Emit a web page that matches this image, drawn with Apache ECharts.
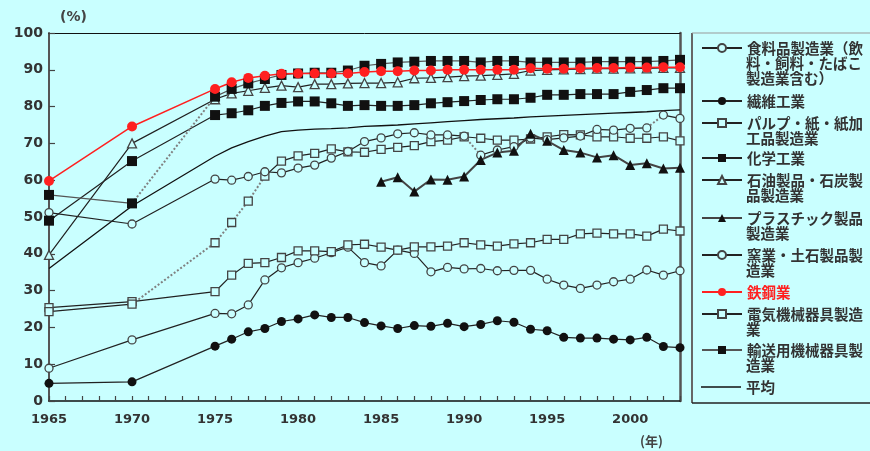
<!DOCTYPE html>
<html><head><meta charset="utf-8">
<script src="https://cdn.jsdelivr.net/npm/echarts@6/dist/echarts.min.js"></script>
<style>html,body{margin:0;padding:0;background:#c9ffff}#c{width:870px;height:451px}</style>
</head><body><div id="c"></div>
<script>
// ---- data ----
const years = [1965,1970,1975,1976,1977,1978,1979,1980,1981,1982,1983,1984,1985,1986,1987,1988,1989,1990,1991,1992,1993,1994,1995,1996,1997,1998,1999,2000,2001,2002,2003];
const plasticYears = [1985,1986,1987,1988,1989,1990,1991,1992,1993,1994,1995,1996,1997,1998,1999,2000,2001,2002,2003];

const food      = [8.9,16.6,23.8,23.7,26.1,32.9,36.2,37.6,38.8,40.3,41.8,37.6,36.7,41,40.1,35.1,36.3,35.9,36,35.4,35.5,35.5,33.1,31.5,30.6,31.5,32.4,33.1,35.6,34.2,35.4];
const textile   = [4.8,5.2,14.9,16.8,18.8,19.7,21.6,22.3,23.4,22.7,22.7,21.3,20.4,19.7,20.5,20.3,21.1,20.2,20.8,21.8,21.4,19.5,19.1,17.3,17.1,17.1,16.8,16.6,17.3,14.8,14.5];
const pulp      = [25.4,27,29.7,34.2,37.4,37.6,39,40.8,40.8,40.6,42.4,42.6,41.8,41,41.9,41.9,42.1,43,42.4,42.1,42.7,43,43.9,43.9,45.4,45.6,45.4,45.4,44.8,46.7,46.2];
const chemical  = [49,65.2,77.7,78.2,79,80.2,81,81.4,81.4,80.9,80.2,80.4,80.2,80.2,80.4,80.9,81.2,81.5,81.8,82,82,82.4,83.2,83.2,83.4,83.4,83.4,84,84.5,85,85];
const petroleum = [39.7,70,82,83.6,84.3,85.1,85.7,85.3,86.1,86.1,86.3,86.4,86.4,86.6,87.7,87.8,88,88.3,88.4,88.6,88.9,89.8,90,90.1,90.2,90.3,90.3,90.4,90.4,90.5,90.5];
const plastic   = [59.6,60.8,56.9,60.2,60.1,61,65.5,67.5,68,72.6,70.7,68.2,67.5,66.2,66.8,64.1,64.6,63.2,63.4];
const ceramic   = [51.2,48.1,60.3,60,61,62.3,62,63.3,64.1,66,67.8,70.5,71.5,72.6,72.9,72.3,72.3,72,66.8,68.2,69.1,71.5,71,71.5,72,73.8,73.6,74.1,74.2,77.7,76.8];
const steel     = [59.8,74.6,84.8,86.6,87.8,88.4,88.9,89,89,89,89,89.4,89.6,89.6,89.8,89.8,90,90,90,90,90,90.4,90.3,90.3,90.4,90.5,90.5,90.6,90.6,90.7,90.7];
const electric  = [24.3,26.3,43,48.5,54.3,61.1,65.2,66.6,67.3,68.5,67.7,67.6,68.4,68.9,69.4,70.5,70.9,71.8,71.4,70.9,70.9,71.2,71.8,72.4,72.3,71.8,71.8,71.4,71.4,71.8,70.7];
const transport = [56,53.7,82.7,84.8,86.3,87.5,88.6,89,89.2,89.2,89.8,91.1,91.6,92,92.2,92.4,92.4,92.4,92,92.4,92.4,92,92,92,92,92.2,92.2,92.2,92.2,92.4,92.7];
const average   = [36,53,66.5,68.8,70.5,72,73.2,73.6,73.9,74,74.2,74.6,74.8,75,75.3,75.6,75.9,76.2,76.5,76.7,76.9,77.2,77.4,77.6,77.8,78,78.2,78.4,78.6,78.9,79.1];

// segments drawn dotted (index of segment start)
const transportGaps = [1];
const electricGaps = [1,2,3,4];
const ceramicGaps = [17,28];

const yTicks = [0,10,20,30,40,50,60,70,80,90,100];

const legendLines = [
  ['食料品製造業（飲','料・飼料・たばこ','製造業含む）'],
  ['繊維工業'],
  ['パルプ・紙・紙加','工品製造業'],
  ['化学工業'],
  ['石油製品・石炭製','品製造業'],
  ['プラスチック製品','製造業'],
  ['窯業・土石製品製','造業'],
  ['鉄鋼業'],
  ['電気機械器具製造','業'],
  ['輸送用機械器具製','造業'],
  ['平均']
];
const legendY = [48,101,123,158,180,218,255,292,314,350,387];

// ---- build ----
const BG = '#c9ffff';
const names = legendLines.map(l => l.join(''));
function mainData(xs, vs, gaps){ const d=[]; xs.forEach((x,i)=>{ d.push([x,vs[i]]); if(gaps.indexOf(i)>=0) d.push([x,'-']); }); return d; }
function gapData(xs, vs, gaps){ const d=[]; gaps.forEach(i=>{ d.push([xs[i],vs[i]],[xs[i+1],vs[i+1]],[xs[i+1],'-']); }); return d; }

const openStyle = {color: BG, borderColor: '#444', borderWidth: 1.3};
function S(idx, xs, vs, gaps, symbol, size, itemStyle, lineStyle){
  return {type:'line', name:names[idx], data:mainData(xs,vs,gaps||[]), symbol, symbolSize:size,
    itemStyle, lineStyle, emphasis:{disabled:true}, animation:false};
}
function G(xs, vs, gaps){
  return {type:'line', name:'gap'+Math.random(), data:gapData(xs,vs,gaps), symbol:'none', silent:true,
    lineStyle:{type:'dotted', color:'#808080', width:2}, animation:false};
}
const dark = {color:'#222', width:1.2};
const series = [
  S(10, years, average, [], 'none', 0, {color:'#111'}, {color:'#111', width:1.3}),
  S(1, years, textile, [], 'circle', 9, {color:'#111'}, dark),
  S(0, years, food, [], 'circle', 8, openStyle, dark),
  S(2, years, pulp, [], 'rect', 8, openStyle, dark),
  S(8, years, electric, electricGaps, 'rect', 8, openStyle, dark),
  G(years, electric, electricGaps),
  S(6, years, ceramic, ceramicGaps, 'circle', 8, openStyle, dark),
  G(years, ceramic, ceramicGaps),
  S(5, plasticYears, plastic, [], 'triangle', 10, {color:'#111'}, {color:'#444', width:2}),
  S(3, years, chemical, [], 'rect', 10, {color:'#111'}, dark),
  S(4, years, petroleum, [], 'triangle', 9, openStyle, dark),
  S(9, years, transport, transportGaps, 'rect', 10, {color:'#111'}, {color:'#555', width:1.2}),
  G(years, transport, transportGaps),
  S(7, years, steel, [], 'circle', 10, {color:'#ff2020'}, {color:'#ff2020', width:1.5})
];

const txtFont = '"Noto Sans CJK JP"';
const legends = legendLines.map((lines, i) => {
  const isAvg = i === 10, isRed = i === 7;
  return {
    data:[{name:names[i], icon: isAvg ? 'rect' : undefined}],
    left: 701, top: legendY[i] - 7.5, padding: 0,
    itemWidth: 40, itemHeight: isAvg ? 1.5 : 10,
    selectedMode: false,
    formatter: () => lines[0],
    textStyle: {fontSize:14.5, fontWeight:'bold', color: isRed ? '#ff2020' : '#333', fontFamily: txtFont, lineHeight:15}
  };
});

const graphics = [];
legendLines.forEach((lines, i) => {
  for (let k = 1; k < lines.length; k++) {
    graphics.push({type:'text', x:746, y:legendY[i] + 15*k, silent:true,
      style:{text:lines[k], font:'bold 14.5px ' + txtFont, fill:'#333', verticalAlign:'middle', textVerticalAlign:'middle'}});
  }
});
graphics.push(
  {type:'line', silent:true, shape:{x1:692, y1:33, x2:692, y2:403}, style:{stroke:'#666', lineWidth:2}},
  {type:'line', silent:true, shape:{x1:692, y1:403, x2:870, y2:403}, style:{stroke:'#222', lineWidth:1.5}},
  {type:'line', silent:true, shape:{x1:692, y1:33, x2:870, y2:33}, style:{stroke:'#999', lineWidth:1}},
  {type:'text', x:60, y:17, silent:true, style:{text:'(%)', font:'bold 14px "DejaVu Sans"', fill:'#444', verticalAlign:'middle', textVerticalAlign:'middle'}},
  {type:'text', x:640, y:441, silent:true, style:{text:'(年)', font:'bold 13px ' + txtFont, fill:'#444', verticalAlign:'middle', textVerticalAlign:'middle'}}
);

const chart = echarts.init(document.getElementById('c'), null, {renderer:'canvas'});
chart.setOption({
  backgroundColor: BG,
  animation: false,
  grid: {left:49, right:190, top:33, bottom:50, containLabel:false},
  xAxis: [
    {type:'value', min:1965, max:2003, interval:1, position:'bottom',
     axisLine:{show:true, onZero:false, lineStyle:{color:'#111', width:1.5}},
     axisTick:{show:true, inside:true, length:5, lineStyle:{color:'#444', width:1.2}},
     axisLabel:{formatter: v => (v % 5 === 0 ? String(v) : ''), margin:12, fontSize:13, fontWeight:'bold', color:'#333', fontFamily:'DejaVu Sans'},
     splitLine:{show:false}},
    {type:'value', min:1965, max:2003, position:'top',
     axisLine:{show:true, onZero:false, lineStyle:{color:'#111', width:1}},
     axisTick:{show:false}, axisLabel:{show:false}, splitLine:{show:false}}
  ],
  yAxis: [
    {type:'value', min:yTicks[0], max:yTicks[yTicks.length-1], interval:10,
     axisLine:{show:true, onZero:false, lineStyle:{color:'#555', width:2}},
     axisTick:{show:true, inside:true, length:6, lineStyle:{color:'#444', width:1.2}},
     axisLabel:{margin:6, fontSize:14, fontWeight:'bold', color:'#333', fontFamily:'DejaVu Sans'},
     splitLine:{show:false}},
    {type:'value', min:0, max:100, position:'right',
     axisLine:{show:true, onZero:false, lineStyle:{color:'#555', width:2.5}},
     axisTick:{show:false}, axisLabel:{show:false}, splitLine:{show:false}}
  ],
  legend: legends,
  graphic: graphics,
  series: series
});
</script>
</body></html>
